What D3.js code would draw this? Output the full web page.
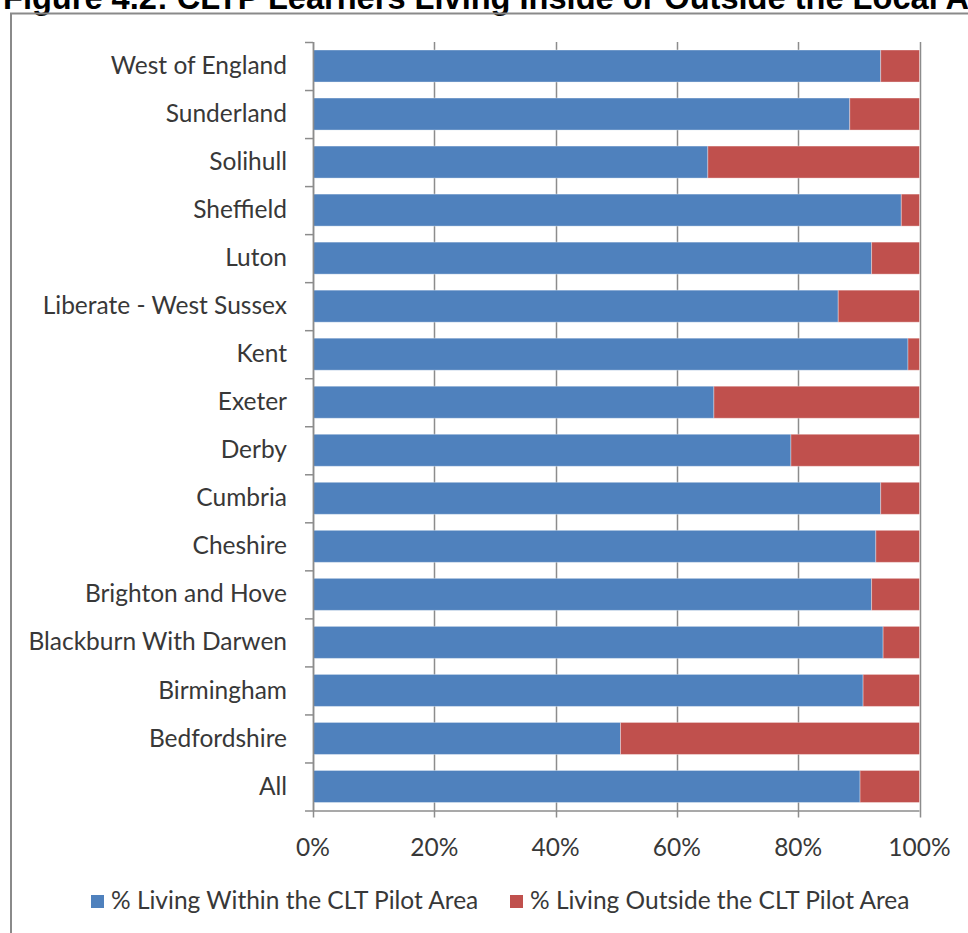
<!DOCTYPE html>
<html>
<head>
<meta charset="utf-8">
<script src="https://cdn.jsdelivr.net/npm/d3@7"></script>
<style>
  html, body { margin: 0; padding: 0; background: #fff; overflow: hidden; }
  svg { display: block; }
</style>
</head>
<body>
<div id="chart"></div>
<script>
// values
let categories = ["West of England", "Sunderland", "Solihull", "Sheffield", "Luton",
  "Liberate - West Sussex", "Kent", "Exeter", "Derby", "Cumbria", "Cheshire",
  "Brighton and Hove", "Blackburn With Darwen", "Birmingham", "Bedfordshire", "All"];
let withinArea = [93.6, 88.5, 65.1, 97.0, 92.1, 86.6, 98.1, 66.1, 78.8, 93.6, 92.8, 92.1, 94.0, 90.7, 50.7, 90.2];
let outsideArea = [6.4, 11.5, 34.9, 3.0, 7.9, 13.4, 1.9, 33.9, 21.2, 6.4, 7.2, 7.9, 6.0, 9.3, 49.3, 9.8];
let seriesNames = ["% Living Within the CLT Pilot Area", "% Living Outside the CLT Pilot Area"];
let xTicks = [0, 20, 40, 60, 80, 100];
let title = "Figure 4.2: CLTP Learners Living Inside or Outside the Local Authority";

function makeChart() {
  let svgWidth = 968;
  let svgHeight = 933;

  let margin = { top: 42, right: 48.5, bottom: 122.5, left: 313 };
  let width = svgWidth - margin.left - margin.right;
  let height = svgHeight - margin.top - margin.bottom;

  let colors = ["#4F81BD", "#C0504D"];
  let textColor = "#383838";
  let font = "Lato, 'Open Sans', sans-serif";
  let fontSize = "24.5px";

  let svg = d3.select("#chart")
    .append("svg")
    .attr("width", svgWidth)
    .attr("height", svgHeight);

  // title, cut off at the top like the source
  svg.append("text")
    .attr("x", 3)
    .attr("y", 9)
    .attr("font-family", "'Liberation Sans', Arial, sans-serif")
    .attr("font-weight", "bold")
    .attr("font-size", "32.6px")
    .attr("fill", "#000")
    .text(title);

  // chart frame
  svg.append("rect")
    .attr("x", 11)
    .attr("y", 13.5)
    .attr("width", 1000)
    .attr("height", 1000)
    .attr("fill", "none")
    .attr("stroke", "#8a8a8a")
    .attr("stroke-width", 2);

  let chart = svg.append("g")
    .attr("transform", `translate(${margin.left}, ${margin.top})`);

  let x = d3.scaleLinear().domain([0, 100]).range([0, width]);
  let y = d3.scaleBand().domain(categories).range([0, height])
    .paddingInner(1 / 3).paddingOuter(1 / 6);

  let stacked = categories.map((c, i) => ({ cat: c, vals: [withinArea[i], outsideArea[i]] }));

  // vertical gridlines (extend below the axis as tick marks)
  chart.append("g")
    .selectAll("line")
    .data(xTicks)
    .enter()
    .append("line")
    .attr("x1", d => Math.round(x(d)) + 0.5)
    .attr("x2", d => Math.round(x(d)) + 0.5)
    .attr("y1", 0)
    .attr("y2", height + 7)
    .attr("stroke", "#8c8c8c")
    .attr("stroke-width", 1.5);

  // bars
  let rows = chart.selectAll(".row")
    .data(stacked)
    .enter()
    .append("g")
    .attr("transform", d => `translate(0, ${y(d.cat)})`);

  seriesNames.forEach(function(name, s) {
    rows.append("rect")
      .attr("x", d => x(d3.sum(d.vals.slice(0, s))))
      .attr("width", d => x(d.vals[s]))
      .attr("y", 0)
      .attr("height", y.bandwidth())
      .attr("fill", colors[s])
      .attr("stroke", "rgba(255,255,255,0.35)")
      .attr("stroke-width", 1);
  });

  // bottom axis line
  chart.append("line")
    .attr("x1", 0).attr("x2", width)
    .attr("y1", height + 0.5).attr("y2", height + 0.5)
    .attr("stroke", "#8c8c8c")
    .attr("stroke-width", 1.5);

  // left axis line and category tick marks
  chart.append("line")
    .attr("x1", 0.5).attr("x2", 0.5)
    .attr("y1", 0).attr("y2", height)
    .attr("stroke", "#8c8c8c")
    .attr("stroke-width", 1.5);

  let boundaries = categories.map(c => y(c) - y.step() * y.paddingInner() / 2);
  boundaries.push(height);
  chart.append("g")
    .selectAll("line")
    .data(boundaries)
    .enter()
    .append("line")
    .attr("x1", -8).attr("x2", 0)
    .attr("y1", d => d + 0.5).attr("y2", d => d + 0.5)
    .attr("stroke", "#8c8c8c")
    .attr("stroke-width", 1.5);

  // category labels
  chart.append("g")
    .selectAll("text")
    .data(categories)
    .enter()
    .append("text")
    .attr("x", -26)
    .attr("y", d => y(d) + y.bandwidth() / 2)
    .attr("dy", "0.33em")
    .attr("text-anchor", "end")
    .attr("font-family", font)
    .attr("font-size", fontSize)
    .attr("fill", textColor)
    .text(d => d);

  // x tick labels
  chart.append("g")
    .selectAll("text")
    .data(xTicks)
    .enter()
    .append("text")
    .attr("x", d => x(d))
    .attr("y", height + 45)
    .attr("text-anchor", "middle")
    .attr("font-family", font)
    .attr("font-size", fontSize)
    .attr("fill", textColor)
    .text(d => d + "%");

  // legend
  let legendX = [91, 510];
  let legend = svg.append("g");
  seriesNames.forEach(function(name, s) {
    legend.append("rect")
      .attr("x", legendX[s])
      .attr("y", 895)
      .attr("width", 13)
      .attr("height", 13)
      .attr("fill", colors[s]);
    legend.append("text")
      .attr("x", legendX[s] + 20)
      .attr("y", 909)
      .attr("font-family", font)
      .attr("font-size", fontSize)
      .attr("fill", textColor)
      .text(name);
  });
}

makeChart();
</script>
</body>
</html>
